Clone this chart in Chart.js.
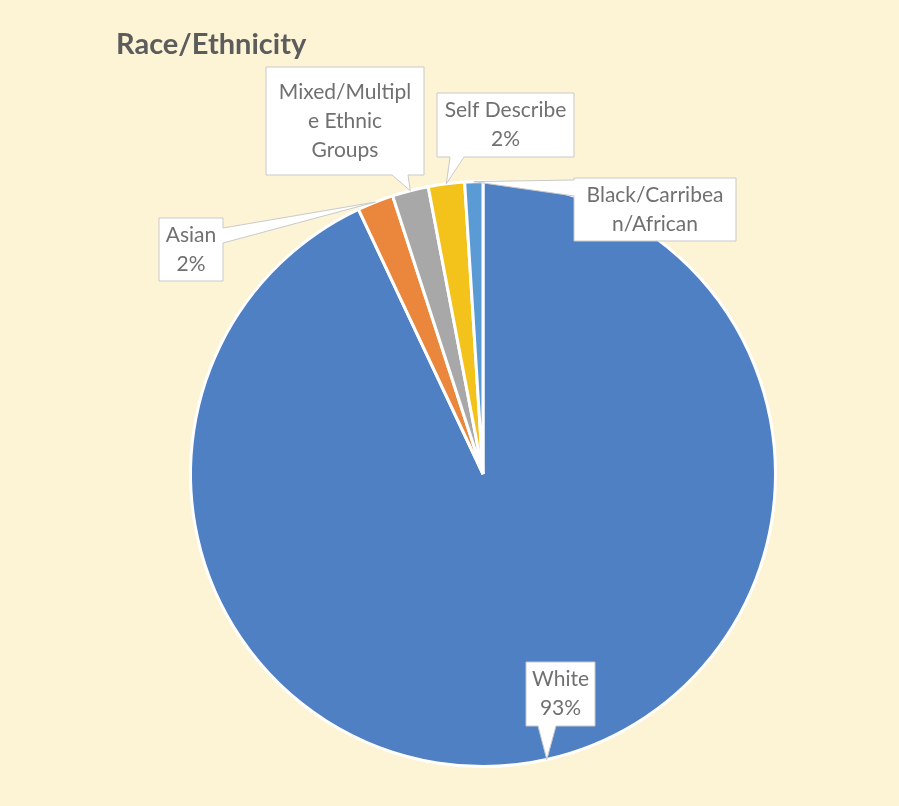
<!DOCTYPE html>
<html>
<head>
<meta charset="utf-8">
<title>Race/Ethnicity</title>
<script src="https://cdn.jsdelivr.net/npm/chart.js@4"></script>
<style>
  html, body { margin: 0; padding: 0; background: #fdf3d5; }
  #chart { display: block; }
</style>
</head>
<body>
<canvas id="chart" width="899" height="806"></canvas>
<script>
const categories = ['White', 'Asian', 'Mixed/Multiple Ethnic Groups', 'Self Describe', 'Black/Carribean/African'];
const shares = [93, 2, 2, 2, 1];
const sliceColours = ['#4f80c3', '#eb873d', '#a8a8a8', '#f4c31b', '#5a9bd6'];

// name text as it wraps inside each callout box, and whether the % line fits
const calloutNameLines = [['White'], ['Asian'], ['Mixed/Multipl', 'e Ethnic', 'Groups'], ['Self Describe'], ['Black/Carribea', 'n/African']];
const calloutShowPct = [true, true, false, true, false];

// callout boxes: x, y, w, h and where the pointer leaves the box
const calloutBoxes = [
  { x: 526, y: 662, w: 69, h: 64, side: 'bottom', base: [538, 556] },
  { x: 159, y: 218, w: 64, h: 63, side: 'right', base: [228, 243] },
  { x: 266, y: 67, w: 158, h: 108, side: 'bottom', base: [392, 408] },
  { x: 437, y: 93, w: 137, h: 64, side: 'bottom', base: [450, 464] },
  { x: 574, y: 178, w: 162, h: 63, side: 'left', base: [180, 196] }
];

const LABEL_FONT = '21px Lato, "Liberation Sans", sans-serif';
const LINE_H = 29;

function calloutPath(ctx, box, tip) {
  const { x, y, w, h, side, base } = box;
  ctx.beginPath();
  ctx.moveTo(x, y);
  ctx.lineTo(x + w, y);
  if (side === 'right') {
    ctx.lineTo(x + w, base[0]);
    ctx.lineTo(tip.x, tip.y);
    ctx.lineTo(x + w, base[1]);
  }
  ctx.lineTo(x + w, y + h);
  if (side === 'bottom') {
    ctx.lineTo(base[1], y + h);
    ctx.lineTo(tip.x, tip.y);
    ctx.lineTo(base[0], y + h);
  }
  ctx.lineTo(x, y + h);
  if (side === 'left') {
    ctx.lineTo(x, base[1]);
    ctx.lineTo(tip.x, tip.y);
    ctx.lineTo(x, base[0]);
  }
  ctx.closePath();
}

const calloutPlugin = {
  id: 'callouts',
  afterDraw(chart) {
    const ctx = chart.ctx;
    ctx.save();

    // title
    ctx.fillStyle = '#5c5c5c';
    ctx.font = 'bold 29px Lato, "Liberation Sans", sans-serif';
    ctx.textAlign = 'left';
    ctx.textBaseline = 'middle';
    ctx.fillText('Race/Ethnicity', 116, 45);

    const arcs = chart.getDatasetMeta(0).data;
    arcs.forEach((arc, i) => {
      const p = arc.getProps(['x', 'y', 'startAngle', 'endAngle', 'outerRadius'], true);
      const mid = (p.startAngle + p.endAngle) / 2;
      const tip = { x: p.x + Math.cos(mid) * p.outerRadius, y: p.y + Math.sin(mid) * p.outerRadius };
      const box = calloutBoxes[i];

      calloutPath(ctx, box, tip);
      ctx.fillStyle = '#ffffff';
      ctx.fill();
      ctx.strokeStyle = '#c9c9c9';
      ctx.lineWidth = 1;
      ctx.stroke();

      const lines = calloutNameLines[i].slice();
      if (calloutShowPct[i]) lines.push(shares[i] + '%');
      ctx.fillStyle = '#707070';
      ctx.font = LABEL_FONT;
      ctx.textAlign = 'center';
      ctx.textBaseline = 'middle';
      const cx = box.x + box.w / 2;
      const top = box.y + box.h / 2 - (lines.length - 1) * LINE_H / 2;
      lines.forEach((t, k) => ctx.fillText(t, cx, top + k * LINE_H));
    });
    ctx.restore();
  }
};

new Chart(document.getElementById('chart'), {
  type: 'pie',
  data: {
    labels: categories,
    datasets: [{
      data: shares,
      backgroundColor: sliceColours,
      borderColor: '#ffffff',
      borderWidth: 3
    }]
  },
  options: {
    responsive: false,
    animation: false,
    devicePixelRatio: 1,
    layout: { padding: { left: 189, right: 122, top: 180, bottom: 38 } },
    plugins: {
      legend: { display: false },
      tooltip: { enabled: false },
      title: { display: false }
    }
  },
  plugins: [calloutPlugin]
});
</script>
</body>
</html>
